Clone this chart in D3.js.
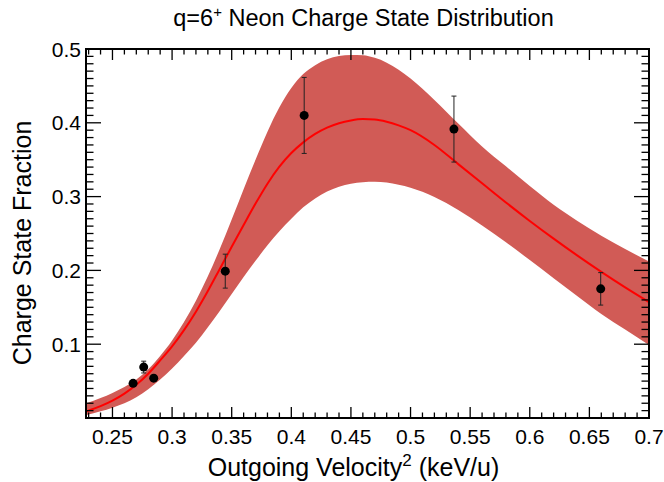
<!DOCTYPE html>
<html>
<head>
<meta charset="utf-8">
<script src="https://cdn.jsdelivr.net/npm/d3@7"></script>
<style>
  body { margin: 0; background: #fff; }
  text { font-family: "Liberation Sans", Arial, sans-serif; fill: #000; }
</style>
</head>
<body>
<svg id="chart" width="664" height="482"></svg>
<script>
// measured points with errors
const pointX = [0.2673, 0.2762, 0.2846, 0.3446, 0.4108, 0.5364, 0.6595]
const pointY = [0.047, 0.069, 0.054, 0.199, 0.4100, 0.3915, 0.175]
const pointErr = [0.003, 0.008, 0.003, 0.023, 0.0515, 0.0447, 0.022]

// fit curve and its band at these x values
const curveX = [0.2282, 0.24, 0.25, 0.26, 0.27, 0.28, 0.29, 0.30, 0.31, 0.32,
  0.33, 0.34, 0.35, 0.36, 0.37, 0.38, 0.39, 0.40, 0.41, 0.42,
  0.43, 0.44, 0.45, 0.46, 0.47, 0.48, 0.49, 0.50, 0.52, 0.54,
  0.56, 0.58, 0.60, 0.62, 0.64, 0.66, 0.68, 0.70]
const fitY = [0.0090, 0.0160, 0.0235, 0.0330, 0.0450, 0.0600, 0.0780, 0.0970, 0.1190, 0.1440,
  0.1720, 0.2020, 0.2320, 0.2615, 0.2905, 0.3175, 0.3405, 0.3590, 0.3735, 0.3850,
  0.3935, 0.3995, 0.4032, 0.4050, 0.4045, 0.4015, 0.3965, 0.3900, 0.3700, 0.3440,
  0.3180, 0.2920, 0.2670, 0.2430, 0.2200, 0.1980, 0.1770, 0.1570]
const upperY = [0.0200, 0.0270, 0.0340, 0.0420, 0.0520, 0.0660, 0.0840, 0.1050, 0.1300, 0.1590,
  0.1920, 0.2290, 0.2690, 0.3100, 0.3500, 0.3880, 0.4210, 0.4470, 0.4660, 0.4780,
  0.4860, 0.4905, 0.4920, 0.4915, 0.4880, 0.4815, 0.4720, 0.4600, 0.4310, 0.3990,
  0.3680, 0.3410, 0.3145, 0.2890, 0.2670, 0.2470, 0.2290, 0.2120]
const lowerY = [0.0040, 0.0090, 0.0140, 0.0200, 0.0280, 0.0390, 0.0520, 0.0670, 0.0840, 0.1020,
  0.1230, 0.1450, 0.1680, 0.1910, 0.2130, 0.2340, 0.2530, 0.2700, 0.2855, 0.2975,
  0.3070, 0.3135, 0.3175, 0.3195, 0.3200, 0.3190, 0.3160, 0.3120, 0.2995, 0.2820,
  0.2610, 0.2380, 0.2140, 0.1895, 0.1650, 0.1410, 0.1200, 0.0990]

const xTicks = [0.25, 0.3, 0.35, 0.4, 0.45, 0.5, 0.55, 0.6, 0.65, 0.7]
const xTickLabels = ["0.25", "0.3", "0.35", "0.4", "0.45", "0.5", "0.55", "0.6", "0.65", "0.7"]
const yTicks = [0.1, 0.2, 0.3, 0.4, 0.5]
const yTickLabels = ["0.1", "0.2", "0.3", "0.4", "0.5"]

const padLeft = 86, padRight = 649, padTop = 49, padBottom = 418
const bandColor = "#d15b56"
const lineColor = "#ff0000"

const svg = d3.select("#chart")

const x = d3.scaleLinear().domain([0.2278, 0.7]).range([padLeft, padRight])
const y = d3.scaleLinear().domain([0, 0.5]).range([padBottom, padTop])

svg.append("clipPath").attr("id", "plotclip")
  .append("rect")
  .attr("x", padLeft).attr("y", padTop)
  .attr("width", padRight - padLeft).attr("height", padBottom - padTop)

const plot = svg.append("g").attr("clip-path", "url(#plotclip)")

const band = d3.area()
  .x((d, i) => x(curveX[i]))
  .y0((d, i) => y(lowerY[i]))
  .y1((d, i) => y(upperY[i]))
  .curve(d3.curveMonotoneX)

plot.append("path")
  .attr("d", band(curveX))
  .attr("fill", bandColor)

const fitLine = d3.line()
  .x((d, i) => x(curveX[i]))
  .y(d => y(d))
  .curve(d3.curveMonotoneX)

plot.append("path")
  .attr("d", fitLine(fitY))
  .attr("fill", "none")
  .attr("stroke", lineColor)
  .attr("stroke-width", 2)

// error bars
const errG = svg.append("g").attr("stroke", "#222").attr("stroke-width", 1)
pointX.forEach((v, i) => {
  const cx = x(v)
  const y1 = y(pointY[i] + pointErr[i]), y2 = y(pointY[i] - pointErr[i])
  errG.append("line").attr("x1", cx).attr("x2", cx).attr("y1", y1).attr("y2", y2)
  errG.append("line").attr("x1", cx - 2.5).attr("x2", cx + 2.5).attr("y1", y1).attr("y2", y1)
  errG.append("line").attr("x1", cx - 2.5).attr("x2", cx + 2.5).attr("y1", y2).attr("y2", y2)
})

svg.append("g").selectAll("circle")
  .data(pointX)
  .join("circle")
  .attr("cx", d => x(d))
  .attr("cy", (d, i) => y(pointY[i]))
  .attr("r", 4.5)
  .attr("fill", "#000")

// ticks (inward, mirrored on top and right)
const ticksG = svg.append("g").attr("stroke", "#000").attr("stroke-width", 1.3)
const xMinor = d3.range(23, 71).map(d => d / 100)
const yMinor = d3.range(1, 51).map(d => d / 100)
const isMajorX = v => xTicks.some(t => Math.abs(t - v) < 1e-6)
const isMajorY = v => yTicks.some(t => Math.abs(t - v) < 1e-6)
xMinor.forEach(v => {
  const len = isMajorX(v) ? 11 : 5.5
  ticksG.append("line").attr("x1", x(v)).attr("x2", x(v)).attr("y1", padBottom).attr("y2", padBottom - len)
  ticksG.append("line").attr("x1", x(v)).attr("x2", x(v)).attr("y1", padTop).attr("y2", padTop + len)
})
yMinor.forEach(v => {
  const len = isMajorY(v) ? 15 : 7.5
  ticksG.append("line").attr("y1", y(v)).attr("y2", y(v)).attr("x1", padLeft).attr("x2", padLeft + len)
  ticksG.append("line").attr("y1", y(v)).attr("y2", y(v)).attr("x1", padRight).attr("x2", padRight - len)
})

// frame
svg.append("rect")
  .attr("x", padLeft).attr("y", padTop)
  .attr("width", padRight - padLeft).attr("height", padBottom - padTop)
  .attr("fill", "none")
  .attr("stroke", "#000")
  .attr("stroke-width", 2)

// tick labels
svg.append("g").selectAll("text")
  .data(xTicks)
  .join("text")
  .attr("x", d => x(d))
  .attr("y", padBottom + 26)
  .attr("text-anchor", "middle")
  .attr("font-size", 21)
  .text((d, i) => xTickLabels[i])

svg.append("g").selectAll("text")
  .data(yTicks)
  .join("text")
  .attr("x", padLeft - 5)
  .attr("y", d => y(d) + 7.5)
  .attr("text-anchor", "end")
  .attr("font-size", 21)
  .text((d, i) => yTickLabels[i])

// title
const title = svg.append("text")
  .attr("x", 363.5).attr("y", 26)
  .attr("text-anchor", "middle")
  .attr("font-size", 23.5)
title.append("tspan").text("q=6")
title.append("tspan").attr("font-size", 15).attr("dy", -9).text("+")
title.append("tspan").attr("dy", 9).text(" Neon Charge State Distribution")

// axis titles
const xt = svg.append("text")
  .attr("x", 353.5).attr("y", 476)
  .attr("text-anchor", "middle")
  .attr("font-size", 25)
xt.append("tspan").text("Outgoing Velocity")
xt.append("tspan").attr("font-size", 17).attr("dy", -10).text("2")
xt.append("tspan").attr("dy", 10).text(" (keV/u)")

svg.append("text")
  .attr("transform", "translate(31," + 243 + ") rotate(-90)")
  .attr("text-anchor", "middle")
  .attr("font-size", 25)
  .text("Charge State Fraction")
</script>
</body>
</html>
